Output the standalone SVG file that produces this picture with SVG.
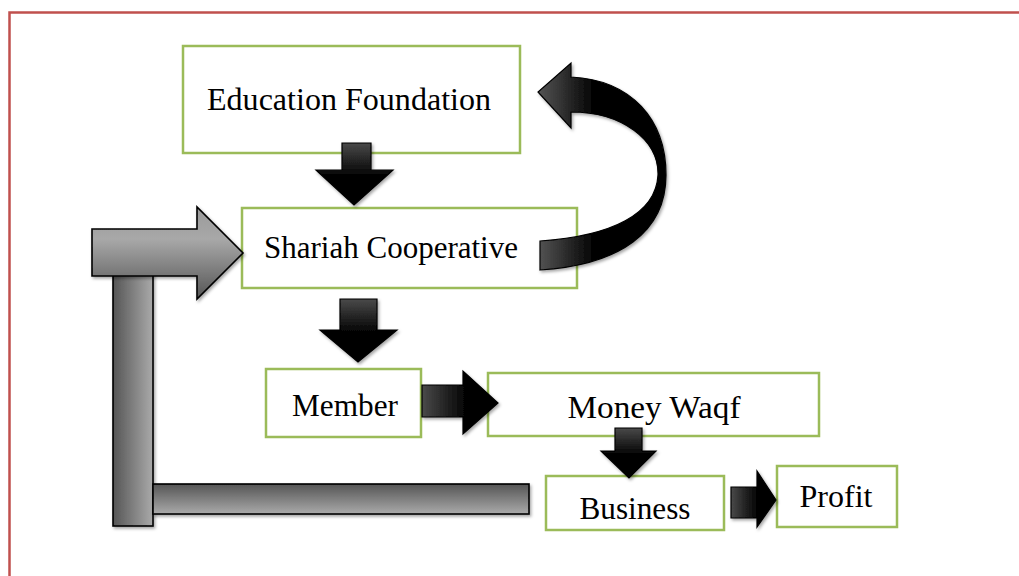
<svg xmlns="http://www.w3.org/2000/svg" width="1019" height="576" viewBox="0 0 1019 576">
<style>
.box{fill:#fff;stroke:#9bbb59;stroke-width:2.5}
.lbl{font-family:"Liberation Serif","Times New Roman",serif;font-size:31px;fill:#000;text-anchor:middle}
.blk{fill:url(#gBlack);stroke:#000;stroke-width:1.2;filter:url(#sh)}
.gray{stroke:#000;stroke-width:1.6;filter:url(#sh)}
</style>
<defs>
<linearGradient id="gBlack" x1="0" y1="0" x2="1" y2="0">
<stop offset="0" stop-color="#4a4a4a"/>
<stop offset="0.6" stop-color="#000"/>
<stop offset="1" stop-color="#000"/>
</linearGradient>
<linearGradient id="gBlackV" x1="0" y1="0" x2="0" y2="1">
<stop offset="0" stop-color="#4a4a4a"/>
<stop offset="0.55" stop-color="#000"/>
<stop offset="1" stop-color="#000"/>
</linearGradient>
<linearGradient id="gCurve" x1="0" y1="0" x2="1" y2="0">
<stop offset="0" stop-color="#555"/>
<stop offset="0.45" stop-color="#000"/>
<stop offset="1" stop-color="#000"/>
</linearGradient>
<linearGradient id="gGrayH" x1="0" y1="0" x2="0" y2="1">
<stop offset="0" stop-color="#9a9a9a"/>
<stop offset="0.35" stop-color="#a8a8a8"/>
<stop offset="1" stop-color="#555"/>
</linearGradient>
<linearGradient id="gGrayBar" x1="0" y1="0" x2="0" y2="1">
<stop offset="0" stop-color="#555"/>
<stop offset="1" stop-color="#aaa"/>
</linearGradient>
<linearGradient id="gGrayV" x1="0" y1="0" x2="1" y2="0">
<stop offset="0" stop-color="#555"/>
<stop offset="1" stop-color="#aaa"/>
</linearGradient>
<filter id="sh" x="-20%" y="-20%" width="140%" height="140%">
<feDropShadow dx="1.5" dy="2" stdDeviation="1.5" flood-color="#000" flood-opacity="0.35"/>
</filter>
</defs>
<rect x="0" y="0" width="1019" height="576" fill="#fff"/>
<path d="M9.5,576 V12.5 H1019" fill="none" stroke="#c0504d" stroke-width="2.5"/>

<g id="node-education">
<rect class="box" x="183" y="46" width="337" height="107"/>
<text class="lbl" x="349" y="110" textLength="284" lengthAdjust="spacingAndGlyphs">Education Foundation</text>
</g>
<g id="node-shariah">
<rect class="box" x="242" y="208" width="335" height="80"/>
<text class="lbl" x="391" y="258" textLength="254" lengthAdjust="spacingAndGlyphs">Shariah Cooperative</text>
</g>
<g id="node-member">
<rect class="box" x="266" y="369" width="155" height="68"/>
<text class="lbl" x="345" y="416" textLength="106" lengthAdjust="spacingAndGlyphs">Member</text>
</g>
<g id="node-waqf">
<rect class="box" x="488" y="373" width="331" height="63"/>
<text class="lbl" x="654" y="418" textLength="173" lengthAdjust="spacingAndGlyphs">Money Waqf</text>
</g>
<g id="node-business">
<rect class="box" x="546" y="476" width="178" height="54"/>
<text class="lbl" x="635" y="519" textLength="111" lengthAdjust="spacingAndGlyphs">Business</text>
</g>
<g id="node-profit">
<rect class="box" x="777" y="466" width="120" height="61"/>
<text class="lbl" x="836" y="507" textLength="73" lengthAdjust="spacingAndGlyphs">Profit</text>
</g>

<g id="connectors">
<!-- gray feedback arrow -->
<rect class="gray" x="113" y="270" width="40" height="256" fill="url(#gGrayV)"/>
<rect class="gray" x="153" y="484" width="376" height="30" fill="url(#gGrayBar)"/>
<path class="gray" d="M92,229 H197 V207 L243,253 L197,299 V276 H92 Z" fill="url(#gGrayH)"/>
<!-- curved arrow -->
<path class="blk" style="fill:url(#gCurve)" d="M540,241 C612,236 656,214 658,175 C659,140 622,112 571,112 L571,128 L538,92 L571,63 L571,77 C632,80 666,120 666,175 C666,232 620,265 540,270 Z"/>
<!-- down arrows -->
<path class="blk" style="fill:url(#gBlackV)" d="M342,143 H371 V170 H393 L354,205 L316,170 H342 Z"/>
<path class="blk" style="fill:url(#gBlackV)" d="M340,299 H377 V330 H397 L358,362 L320,330 H340 Z"/>
<path class="blk" style="fill:url(#gBlackV)" d="M615,428 H642 V451 H656 L629,478 L601,451 H615 Z"/>
<!-- right arrows -->
<path class="blk" d="M422,385 H463 V371 L498,403 L463,434 V417 H422 Z"/>
<path class="blk" d="M731,487 H757 V471 L776,500 L757,527 V518 H731 Z"/>
</g>
</svg>
